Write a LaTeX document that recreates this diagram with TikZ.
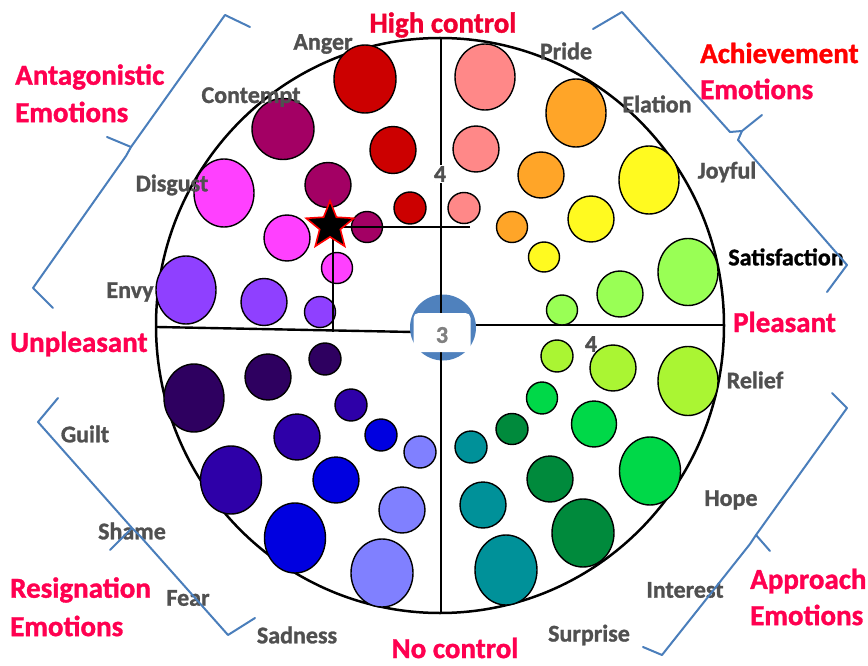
\documentclass[tikz,border=0pt]{standalone}
\usepackage{fontspec}
\setmainfont{Carlito}[BoldFeatures={FakeBold=1.2}]
\usetikzlibrary{shapes.geometric}
\definecolor{angerc}{RGB}{204,0,0}
\definecolor{contc}{RGB}{163,0,100}
\definecolor{disgc}{RGB}{255,64,255}
\definecolor{envyc}{RGB}{143,64,255}
\definecolor{guiltc}{RGB}{46,0,96}
\definecolor{shamec}{RGB}{46,0,168}
\definecolor{fearc}{RGB}{0,0,224}
\definecolor{sadc}{RGB}{128,128,255}
\definecolor{surpc}{RGB}{0,145,153}
\definecolor{intc}{RGB}{0,138,60}
\definecolor{hopec}{RGB}{0,216,72}
\definecolor{reliefc}{RGB}{170,245,51}
\definecolor{satc}{RGB}{153,255,85}
\definecolor{joyc}{RGB}{255,250,32}
\definecolor{elatc}{RGB}{255,165,40}
\definecolor{pridec}{RGB}{255,136,136}
\definecolor{discblue}{RGB}{79,129,189}
\definecolor{bracec}{RGB}{74,126,187}
\definecolor{txtgray}{RGB}{80,80,80}
\definecolor{crim}{RGB}{255,0,80}
\definecolor{hired}{RGB}{240,0,50}
\definecolor{purered}{RGB}{255,0,0}
\newcommand\emcirc[5]{\filldraw[emc,fill=#1] (#2,#3) ellipse [x radius=#4pt, y radius=#5pt];}
\tikzset{
  emc/.style={draw=black, line width=1.4pt},
  gl/.style={text=txtgray, font=\bfseries\fontsize{24}{24}\selectfont, inner sep=0pt},
  rl/.style={text=crim, font=\bfseries\fontsize{29}{29}\selectfont, inner sep=0pt, anchor=west},
  bracestyle/.style={draw=bracec, line width=2pt, line join=round, line cap=round},
  divider/.style={draw=black, line width=2.4pt},
  crossline/.style={draw=black, line width=1.2pt},
}
\begin{document}
\begin{tikzpicture}[x=1pt,y=-1pt]
\useasboundingbox (0,0) rectangle (868,666);
% outline
\draw[line width=2.5pt] (440,325.5) ellipse [x radius=284pt, y radius=287.5pt];
% dividers
\coordinate (top) at (441,38);
\coordinate (bot) at (441,613);
\coordinate (lft) at (157,327);
\coordinate (lmid) at (413,332);
\coordinate (ltick) at (413,320);
\coordinate (rmid) at (473,325);
\coordinate (rgt) at (724,325);
\draw[divider] (lft) -- (lmid) -- (ltick);
\draw[divider] (rmid) -- (rgt);
% blue disc
\fill[discblue] (443,327.5) circle [radius=33pt];
\draw[divider] (top) -- (bot);
\node[fill=white, rounded corners=5pt, minimum width=57pt, minimum height=39pt, inner sep=0pt] (box3) at (442,332.5) {};
\node[gl, text=gray] (three) at (442,335) {3};
% upper-left
\emcirc{angerc}{365}{79}{31}{34}
\emcirc{angerc}{393}{150}{23}{23.5}
\emcirc{angerc}{410}{208}{16}{16}
\emcirc{contc}{283}{129}{31}{30.5}
\emcirc{contc}{328}{185}{23}{22.5}
\emcirc{contc}{367}{227}{15.5}{15.5}
\emcirc{disgc}{224}{193}{30}{34}
\emcirc{disgc}{287}{238}{23}{23}
\emcirc{disgc}{337}{268}{15.5}{15.5}
\emcirc{envyc}{186}{290}{30}{34}
\emcirc{envyc}{264}{302}{23}{23.5}
\emcirc{envyc}{320}{312}{15.5}{15.5}
% upper-right
\emcirc{pridec}{485}{77}{30}{33}
\emcirc{pridec}{476}{149}{23}{23}
\emcirc{pridec}{464}{208}{16}{15.5}
\emcirc{elatc}{576}{113}{30}{34}
\emcirc{elatc}{541}{175}{23}{23}
\emcirc{elatc}{512}{227}{15.5}{15.5}
\emcirc{joyc}{649}{180}{30}{34}
\emcirc{joyc}{591}{219}{23}{23}
\emcirc{joyc}{544}{257}{15.5}{15}
\emcirc{satc}{688}{272}{30}{33.5}
\emcirc{satc}{620}{294}{23}{23}
\emcirc{satc}{562}{310}{15.5}{15}
% lower-left
\emcirc{guiltc}{194}{398}{30}{34}
\emcirc{guiltc}{268}{377}{23}{23}
\emcirc{guiltc}{325}{359}{16}{16}
\emcirc{shamec}{231}{480}{30.5}{34}
\emcirc{shamec}{297}{437}{23}{23}
\emcirc{shamec}{351}{405}{16}{16}
\emcirc{fearc}{295}{538}{30.5}{35}
\emcirc{fearc}{336}{480}{23}{23}
\emcirc{fearc}{381}{435}{16}{16}
\emcirc{sadc}{382}{573}{31}{34}
\emcirc{sadc}{402}{510}{23}{23}
\emcirc{sadc}{420}{452}{16}{16}
% lower-right
\emcirc{surpc}{506}{570}{31}{35}
\emcirc{surpc}{483}{505}{23}{23}
\emcirc{surpc}{471}{447}{16}{16}
\emcirc{intc}{583}{533}{31}{34}
\emcirc{intc}{550}{479}{23}{23}
\emcirc{intc}{512}{429}{16}{15.5}
\emcirc{hopec}{650}{471}{30.5}{34}
\emcirc{hopec}{594}{424}{22.5}{23}
\emcirc{hopec}{542}{398}{15.5}{16}
\emcirc{reliefc}{688}{381}{30}{34.5}
\emcirc{reliefc}{613}{368}{23}{23}
\emcirc{reliefc}{557}{356}{16}{16}
% crosshair and star
\coordinate (hx) at (470,227);
\coordinate (sx) at (333,227);
\coordinate (vy) at (333,332);
\draw[crossline] (sx) -- (hx);
\draw[crossline] (sx) -- (vy);
\node[star, star points=5, star point ratio=2.3, minimum size=50pt, inner sep=0pt, fill=black, draw=red, line width=1.6pt] (star) at (330,226) {};
% numbers
\node[gl, fill=white, inner sep=1pt] (four1) at (440,174) {4};
\node[gl] (four2) at (591,344) {4};
% gray labels
\node[gl] (anger) at (323,44) {Anger};
\node[gl] (contempt) at (251,97) {Contempt};
\node[gl] (disgust) at (172,185) {Disgust};
\node[gl] (envy) at (130,292) {Envy};
\node[gl] (guilt) at (85,434) {Guilt};
\node[gl] (shame) at (132,531) {Shame};
\node[gl] (fear) at (188,598) {Fear};
\node[gl] (sadness) at (297,635) {Sadness};
\node[gl] (surprise) at (589,635) {Surprise};
\node[gl] (interest) at (685,590) {Interest};
\node[gl] (hope) at (731,500) {Hope};
\node[gl] (relief) at (755,380) {Relief};
\node[gl, text=black] (satisfaction) at (786,257) {Satisfaction};
\node[gl] (joyful) at (727,172) {Joyful};
\node[gl] (elation) at (657,104) {Elation};
\node[gl] (pride) at (566,51) {Pride};
% red labels
\node[rl, text=hired, anchor=center] (high) at (443,25) {High control};
\node[rl, anchor=center] (noctrl) at (455,648) {No control};
\node[rl] (pleasant) at (733,322) {Pleasant};
\node[rl] (unpleasant) at (10,344) {Unpleasant};
\node[rl] (antag1) at (15,77) {Antagonistic};
\node[rl] (antag2) at (15,112) {Emotions};
\node[rl, text=purered] (ach1) at (700,53) {Achievement};
\node[rl] (ach2) at (700,89) {Emotions};
\node[rl] (res1) at (10,590) {Resignation};
\node[rl] (res2) at (10,626) {Emotions};
\node[rl] (app1) at (750,581) {Approach};
\node[rl] (app2) at (750,615) {Emotions};
% braces
\draw[bracestyle] (250,27) -- (225,15) -- (131,147) -- (107,137);
\draw[bracestyle] (131,147) -- (126,156) -- (33,288) -- (53,308);
\draw[bracestyle] (593,29) -- (622,12) -- (730,132) -- (742,131) -- (762,115);
\draw[bracestyle] (742,131) -- (738,140) -- (847,265) -- (827,292);
\draw[bracestyle] (832,393) -- (847,408) -- (756,535) -- (770,551);
\draw[bracestyle] (756,535) -- (750,544) -- (662,655) -- (643,647);
\draw[bracestyle] (58,398) -- (38,422) -- (132,528) -- (110,550);
\draw[bracestyle] (132,528) -- (140,536) -- (228,635) -- (255,618);
\end{tikzpicture}
\end{document}
